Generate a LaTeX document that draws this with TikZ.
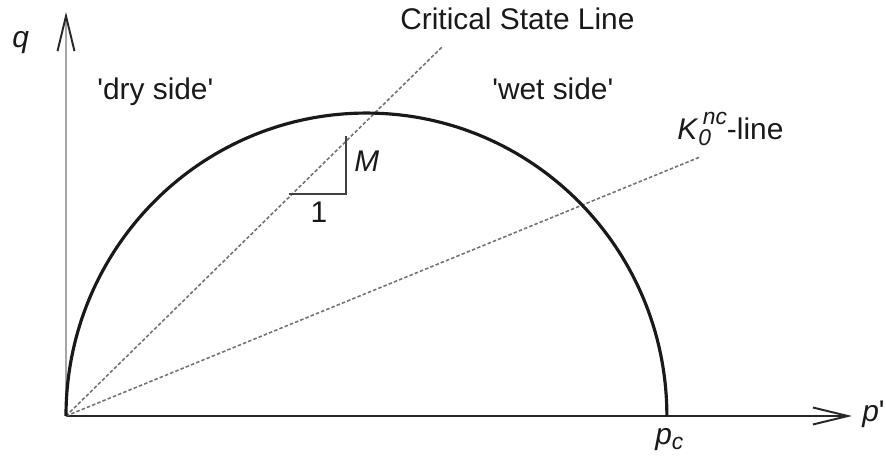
\documentclass[tikz,border=0pt]{standalone}
\usepackage{fontspec}
\setmainfont{Liberation Sans}
\usetikzlibrary{positioning}
\usetikzlibrary{arrows.meta}

\newcommand{\smallidx}[1]{{\fontsize{13}{13}\selectfont\textit{#1}}}
\newcommand{\sq}{\textquotesingle}

\tikzset{
  axis/.style={line width=1.1pt, -{Straight Barb[length=0.7cm, width=0.34cm, line width=1.1pt, color=black!85]}},
  refline/.style={black!55, line width=0.9pt, dash pattern=on 2pt off 1.2pt},
  yieldcurve/.style={black!90, line width=1.8pt},
  slope/.style={black!75, line width=1.1pt},
  lbl/.style={font=\fontsize{17}{20}\selectfont, inner sep=0pt, anchor=base west, text=black!90},
}

\begin{document}
\begin{tikzpicture}[x=0.02cm, y=0.02cm]
    \useasboundingbox (-66,-41) rectangle (820,416);

    \coordinate (O) at (0,0);
    \coordinate (xtip) at (786,0);
    \coordinate (ytip) at (0,404);
    \coordinate (pc) at (601,0);
    \coordinate (cslend) at (376,369);
    \coordinate (kend) at (634,259);
    \coordinate (t1) at (223,222);
    \coordinate (t2) at (280,222);
    \coordinate (t3) at (280,280);

    % axes
    \draw[axis, gray!70] (O) -- (ytip);
    \draw[axis, black!85] (O) -- (xtip);

    % lines through the origin
    \draw[refline] (O) -- (cslend);
    \draw[refline] (O) -- (kend);

    % yield surface
    \draw[yieldcurve] (O) arc[start angle=180, end angle=0, x radius=6.01cm, y radius=6.06cm];

    % slope M
    \draw[slope] (t1) -- (t2) -- (t3);

    \node[lbl] (qlab) at (-54,368) {\textit{q}};
    \node[lbl] (plab) at (796,-5) {\textit{p}\sq};
    \node[lbl] (pclab) at (589,-28) {\textit{p}\raisebox{-0.2em}{\smallidx{c}}};
    \node[lbl] (dry) at (31,316) {\sq dry side\sq};
    \node[lbl] (wet) at (426,316) {\sq wet side\sq};
    \node[lbl] (csl) at (334,386) {Critical State Line};
    \node[lbl] (k0) at (611,276) {\textit{K}\rlap{\raisebox{-0.2em}{\smallidx{0}}}\hspace{0.15em}\raisebox{0.53em}{\smallidx{nc}}-line};
    \node[lbl] (mlab) at (288,244) {\textit{M}};
    \node[lbl, anchor=base] (one) at (253,194) {1};
\end{tikzpicture}
\end{document}
